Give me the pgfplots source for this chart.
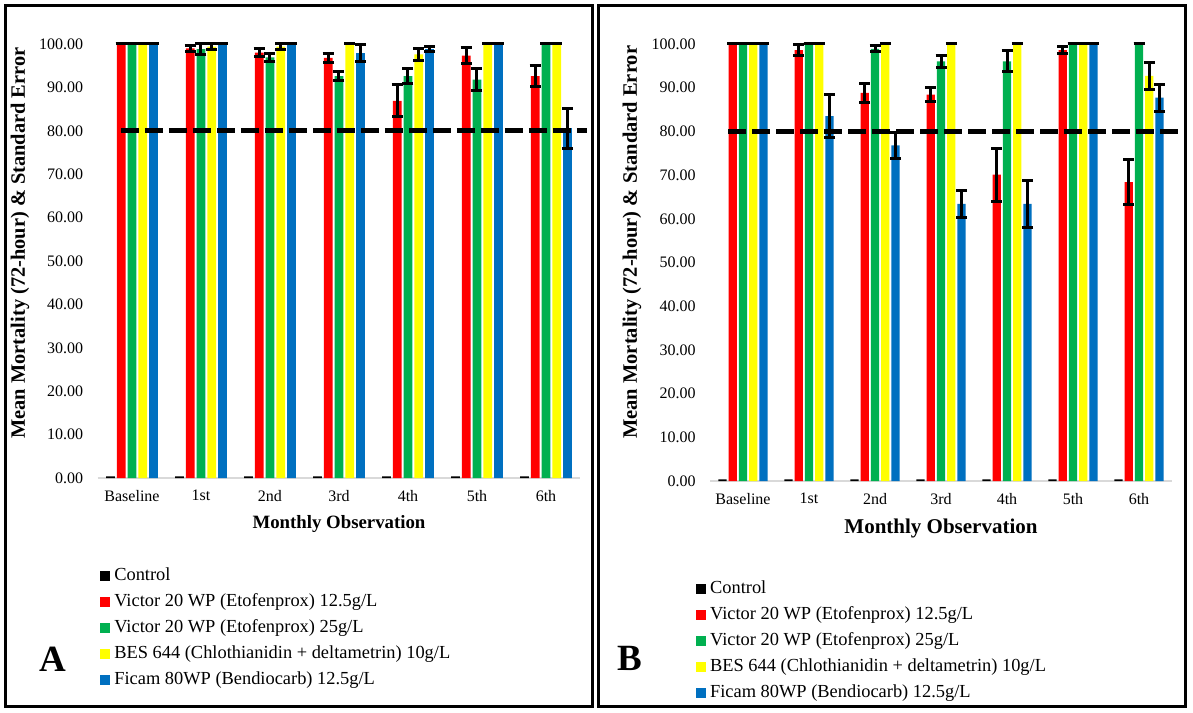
\documentclass[border=0pt]{standalone}
\usepackage{pgfplots}
\pgfplotsset{compat=1.18}
\usepackage{pgfplotstable}
\usepackage{fontspec}
\setmainfont{Liberation Serif}
\definecolor{cred}{HTML}{FF0000}
\definecolor{cgreen}{HTML}{00B050}
\definecolor{cyellow}{HTML}{FFFF00}
\definecolor{cblue}{HTML}{0070C0}
\definecolor{axgray}{HTML}{D9D9D9}

\pgfplotstableread{
x c r re g ge y ye b be
0 0.4 100 0 100 0 100 0 100 0
1 0.4 99.0 0.7 98.8 1.2 99.4 0.6 100 0
2 0.4 98.0 0.9 96.9 0.9 99.4 0.6 100 0
3 0.4 96.8 1.0 92.6 1.1 100 0 97.9 2.0
4 0.4 86.9 3.7 92.6 1.7 97.6 1.3 98.8 0.6
5 0.4 97.3 1.9 91.8 2.6 100 0 100 0
6 0.4 92.6 2.5 100 0 100 0 80.6 4.6
}\dataA

\pgfplotstableread{
x c r re g ge y ye b be
0 0.4 100 0 100 0 100 0 100 0
1 0.4 98.6 1.2 100 0 100 0 83.5 5.0
2 0.4 88.8 2.2 98.9 0.7 100 0 76.8 2.9
3 0.4 88.4 1.6 96.0 1.4 100 0 63.4 3.0
4 0.4 70.1 6.1 96.0 2.4 100 0 63.4 5.4
5 0.4 98.6 0.8 100 0 100 0 100 0
6 0.4 68.4 5.2 100 0 92.7 3.1 87.7 3.1
}\dataB

\pgfplotsset{
  /pgf/number format/assume math mode=true,
  panel/.style={
    scale only axis, clip=false,
    xmin=-0.5, xmax=6.5, ymin=0, ymax=100,
    xtick={0,1,2,3,4,5,6},
    xticklabels={Baseline,1st,2nd,3rd,4th,5th,6th},
    ytick={0,10,20,30,40,50,60,70,80,90,100},
    yticklabel={\pgfmathprintnumber[fixed,fixed zerofill,precision=2]{\tick}},
    axis lines*=left,
    x axis line style={draw=axgray, line width=1.2pt},
    y axis line style={draw=none},
    major tick length=0pt,
    tick style={draw=none},
    tick label style={font=\fontsize{8}{9}\selectfont},
    yticklabel style={anchor=east, inner sep=0pt, xshift=-7pt},
    xticklabel style={anchor=north, inner sep=0pt, yshift=-6pt},
    legend cell align=left,
    legend image code/.code={\fill[#1,draw=none] (0pt,-2.5pt) rectangle (5pt,2.5pt); \path (6pt,0pt);},
    legend style={anchor=north west, draw=none, fill=none, inner sep=0pt,
      font=\fontsize{9.2}{11}\selectfont, row sep=2.5pt,
      nodes={inner sep=1pt, text height=6.5pt, text depth=2pt}},
  },
  bars/.style={ybar, bar width=0.125, bar shift=0, draw=none,
    error bars/.cd, y dir=both, y explicit,
    error bar style={draw=black, solid, line width=1.5pt},
    error mark options={draw=black, line width=1.5pt, mark size=2.75pt, rotate=90},
    /pgfplots/.cd},
  refline/.style={black, line width=2.7pt, dash pattern=on 9pt off 3pt, forget plot},
}

\begin{document}
\begin{tikzpicture}
\path[fill=white] (0,0) rectangle (596.5pt,356pt);
\draw[line width=1.5pt] (2.5pt,353pt) rectangle (296pt,3pt);
\draw[line width=1.5pt] (299pt,353pt) rectangle (592.5pt,3pt);

% Panel A
\begin{axis}[panel, at={(48.75pt,117pt)}, anchor=south west,
  width=241.5pt, height=217pt,
  xlabel={Monthly Observation},
  ylabel={Mean Mortality (72-hour) \& Standard Error},
  every axis x label/.style={at={(axis description cs:0.5,0)}, anchor=center, yshift=-23pt, font=\bfseries\fontsize{9.4}{11}\selectfont},
  every axis y label/.style={at={(axis description cs:-0.1605,0.5415)}, rotate=90, anchor=center, font=\bfseries\fontsize{10.2}{12}\selectfont},
  legend style={at={(axis description cs:0.005,-0.2005)}},
]
\addplot[bars, fill=black] table[x expr=\thisrow{x}-0.312, y=c]{\dataA};
\addlegendentry{Control}
\addplot[bars, fill=cred] table[x expr=\thisrow{x}-0.156, y=r, y error=re]{\dataA};
\addlegendentry{Victor 20 WP (Etofenprox) 12.5g/L}
\addplot[bars, fill=cgreen] table[x=x, y=g, y error=ge]{\dataA};
\addlegendentry{Victor 20 WP (Etofenprox) 25g/L}
\addplot[bars, fill=cyellow] table[x expr=\thisrow{x}+0.156, y=y, y error=ye]{\dataA};
\addlegendentry{BES 644 (Chlothianidin + deltametrin) 10g/L}
\addplot[bars, fill=cblue] table[x expr=\thisrow{x}+0.312, y=b, y error=be]{\dataA};
\addlegendentry{Ficam 80WP (Bendiocarb) 12.5g/L}
\addplot[refline] coordinates {(-0.16,80) (6.6,80)};
\end{axis}

% Panel B
\begin{axis}[panel, at={(355pt,115.5pt)}, anchor=south west,
  width=231pt, height=218.5pt,
  xlabel={Monthly Observation},
  ylabel={Mean Mortality (72-hour) \& Standard Error},
  every axis x label/.style={at={(axis description cs:0.5,0)}, anchor=center, yshift=-23.5pt, font=\bfseries\fontsize{10.5}{12}\selectfont},
  every axis y label/.style={at={(axis description cs:-0.169,0.546)}, rotate=90, anchor=center, font=\bfseries\fontsize{10.25}{12}\selectfont},
  legend style={at={(axis description cs:-0.031,-0.2214)}},
]
\addplot[bars, fill=black] table[x expr=\thisrow{x}-0.312, y=c]{\dataB};
\addlegendentry{Control}
\addplot[bars, fill=cred] table[x expr=\thisrow{x}-0.156, y=r, y error=re]{\dataB};
\addlegendentry{Victor 20 WP (Etofenprox) 12.5g/L}
\addplot[bars, fill=cgreen] table[x=x, y=g, y error=ge]{\dataB};
\addlegendentry{Victor 20 WP (Etofenprox) 25g/L}
\addplot[bars, fill=cyellow] table[x expr=\thisrow{x}+0.156, y=y, y error=ye]{\dataB};
\addlegendentry{BES 644 (Chlothianidin + deltametrin) 10g/L}
\addplot[bars, fill=cblue] table[x expr=\thisrow{x}+0.312, y=b, y error=be]{\dataB};
\addlegendentry{Ficam 80WP (Bendiocarb) 12.5g/L}
\addplot[refline] coordinates {(-0.22,80) (6.72,80)};
\end{axis}

\node[font=\bfseries\fontsize{18.5}{20}\selectfont] at (26.5pt,26.25pt) {A};
\node[font=\bfseries\fontsize{18.5}{20}\selectfont] at (315pt,27pt) {B};
\end{tikzpicture}
\end{document}
